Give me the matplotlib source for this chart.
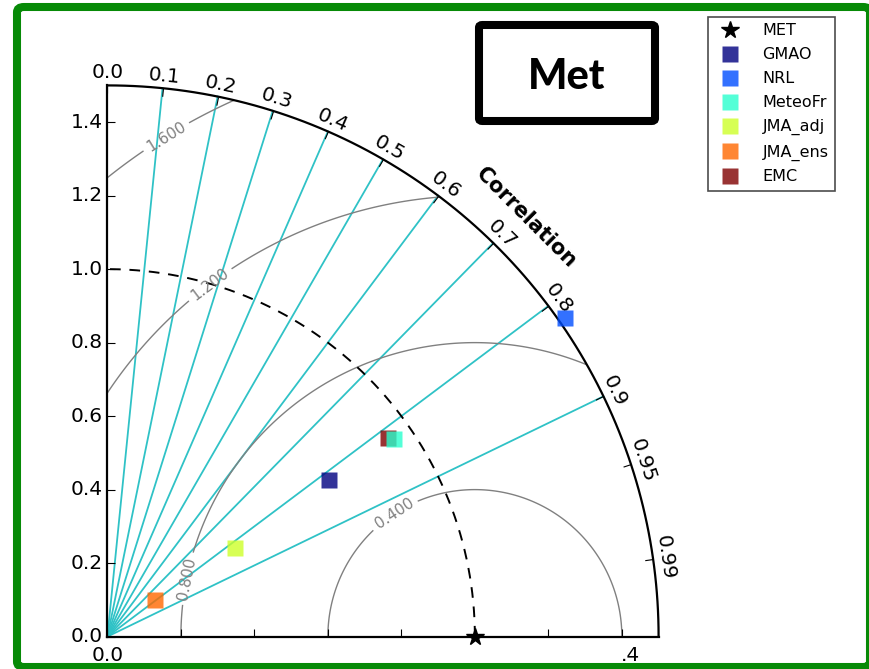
import numpy as np
import matplotlib
matplotlib.use("Agg")
import matplotlib.pyplot as plt
from matplotlib.patches import FancyBboxPatch
from matplotlib.projections import PolarAxes
import mpl_toolkits.axisartist.floating_axes as FA
import mpl_toolkits.axisartist.grid_finder as GF

# Reference data set and its standard deviation
ref_name = "MET"
ref_std = 1.0

# Model statistics relative to the reference
model_names = ["GMAO", "NRL", "MeteoFr", "JMA_adj", "JMA_ens", "EMC"]
model_std = [0.737, 1.517, 0.949, 0.423, 0.163, 0.936]
model_corr = [0.817, 0.821, 0.823, 0.820, 0.793, 0.817]

# Axis ticks
corr_ticks = [0.0, 0.1, 0.2, 0.3, 0.4, 0.5, 0.6, 0.7, 0.8, 0.9, 0.95, 0.99]
corr_lines = [0.1, 0.2, 0.3, 0.4, 0.5, 0.6, 0.7, 0.8, 0.9]
std_ticks = [0.0, 0.2, 0.4, 0.6, 0.8, 1.0, 1.2, 1.4]
std_max = 1.5

# Centered RMS difference contours and where their labels sit (theta, r)
rms_levels = [0.4, 0.8, 1.2, 1.6]
rms_label_pos = [(0.412, 0.848), (0.660, 0.261), (1.286, 0.997), (1.4556, 1.373)]

fig = plt.figure(figsize=(8.69, 6.69), dpi=100)
W, H = 869.0, 669.0

tr = PolarAxes.PolarTransform(apply_theta_transforms=False)
tlocs = np.arccos(corr_ticks)
gl1 = GF.FixedLocator(tlocs)
tf1 = GF.DictFormatter(dict(zip(tlocs, [str(c) for c in corr_ticks])))
gl2 = GF.FixedLocator(std_ticks)
tf2 = GF.DictFormatter({s: "%.1f" % s for s in std_ticks})
ghelper = FA.GridHelperCurveLinear(
    tr, extremes=(0, np.pi / 2, 0, std_max),
    grid_locator1=gl1, tick_formatter1=tf1,
    grid_locator2=gl2, tick_formatter2=tf2)

ax = fig.add_axes([101.9 / W, 26.9 / H, 562.2 / W, 562.2 / H],
                  axes_class=FA.FloatingAxes, grid_helper=ghelper)

ax.axis["top"].set_axis_direction("bottom")
ax.axis["top"].toggle(ticklabels=True, label=True)
ax.axis["top"].major_ticklabels.set_axis_direction("top")
ax.axis["top"].label.set_axis_direction("top")
ax.axis["top"].label.set_text("Correlation")
ax.axis["top"].label.set_fontsize(15)
ax.axis["top"].label.set_fontweight("bold")

ax.axis["left"].set_axis_direction("bottom")
ax.axis["left"].toggle(ticklabels=False, label=False)

ax.axis["right"].set_axis_direction("top")
ax.axis["right"].toggle(ticklabels=True)
ax.axis["right"].major_ticklabels.set_axis_direction("left")
ax.axis["bottom"].set_visible(False)

for name in ["top", "left", "right"]:
    ax.axis[name].major_ticklabels.set_fontsize(14.5)
    ax.axis[name].line.set_linewidth(1.6)
    ax.axis[name].major_ticks.set_ticksize(6)
    ax.axis[name].major_ticks.set_linewidth(1.2)
ax.axis["top"].major_ticklabels.set_pad(ax.axis["top"].major_ticklabels.get_pad() + 1.5)
ax.axis["top"].label.set_pad(ax.axis["top"].label.get_pad() + 2.5)

aux = ax.get_aux_axes(tr)

# Correlation rays
for c in corr_lines:
    aux.plot([np.arccos(c)] * 2, [0, std_max], color="#2fc2c6", lw=1.3, zorder=1)

# RMS difference contours
rs, ts = np.meshgrid(np.linspace(0, std_max, 300), np.linspace(0, np.pi / 2, 300))
rms = np.sqrt(ref_std ** 2 + rs ** 2 - 2 * ref_std * rs * np.cos(ts))
cs = aux.contour(ts, rs, rms, levels=rms_levels, colors="0.5", linewidths=1.0)
cs.clabel(inline=True, fontsize=11, fmt="%.3f", manual=rms_label_pos)

# Reference standard deviation arc and point
t = np.linspace(0, np.pi / 2, 200)
aux.plot(t, np.full_like(t, ref_std), color="k", ls=(0, (5.5, 4.5)), lw=1.4, zorder=2)
ref_handle, = aux.plot([0], [ref_std], "k*", ms=13, clip_on=False, zorder=6,
                       label=ref_name)

colors = plt.cm.jet(np.linspace(0, 1, len(model_names)))
handles = {}
draw_order = [5, 0, 1, 2, 3, 4]
for i in draw_order:
    h, = aux.plot(np.arccos(model_corr[i]), model_std[i], "s", color=colors[i],
                  alpha=0.8, ms=12, mec="none", clip_on=False, zorder=5,
                  label=model_names[i])
    handles[i] = h

# Horizontal std-dev axis labels left visible
aux.annotate("0.0", xy=(0, 0), xytext=(0, -7), textcoords="offset points",
             ha="center", va="top", fontsize=14.5, annotation_clip=False)
aux.annotate(".4", xy=(0, 1.4), xytext=(-1, -7), textcoords="offset points",
             ha="left", va="top", fontsize=14.5, annotation_clip=False)

leg = fig.legend([ref_handle] + [handles[i] for i in range(len(model_names))],
                 [ref_name] + model_names,
                 loc="upper right", bbox_to_anchor=(835 / W, 1 - 17 / H),
                 numpoints=1, fontsize=11.5, fancybox=False, framealpha=1,
                 edgecolor="0.3", borderaxespad=0, labelspacing=0.56,
                 handletextpad=1.05)
leg.get_frame().set_linewidth(1.2)

# Title box
box = FancyBboxPatch((479 / W, 1 - 121 / H), (655 - 479) / W, (121 - 25) / H,
                     boxstyle="round,pad=0,rounding_size=0.004",
                     transform=fig.transFigure, fc="white", ec="black", lw=5.8)
fig.add_artist(box)
fig.text(567 / W, 1 - 77 / H, "Met", ha="center", va="center", fontsize=30,
         fontweight="black", family="Lato")

# Outer frame
frame = FancyBboxPatch((17 / W, 1 - 667 / H), (870 - 17) / W, (667 - 7) / H,
                       boxstyle="round,pad=0,rounding_size=0.008",
                       transform=fig.transFigure, fc="none", ec="#078a07",
                       lw=5.8, clip_on=False, zorder=10)
fig.add_artist(frame)

fig.savefig("out.png", dpi=100)
